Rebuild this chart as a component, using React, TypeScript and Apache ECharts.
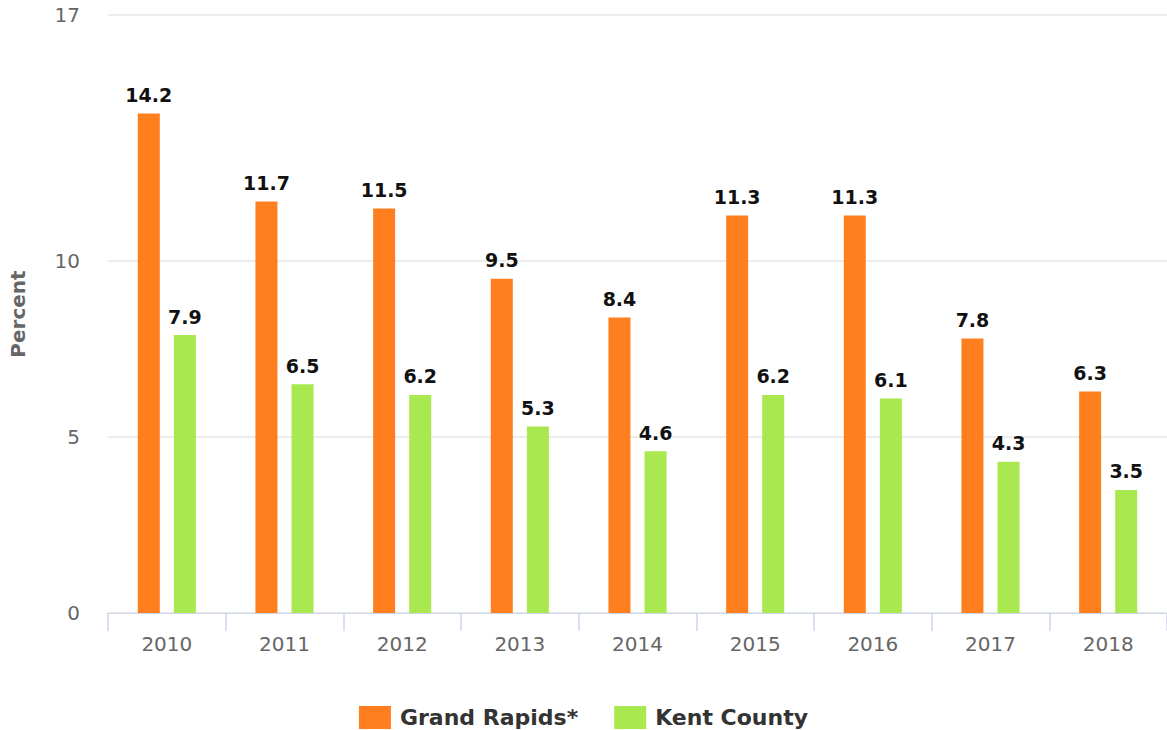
import React, { useEffect, useRef } from "react";
import * as echarts from "echarts";

const categories = ["2010", "2011", "2012", "2013", "2014", "2015", "2016", "2017", "2018"];
const grandRapids = [14.2, 11.7, 11.5, 9.5, 8.4, 11.3, 11.3, 7.8, 6.3];
const kentCounty = [7.9, 6.5, 6.2, 5.3, 4.6, 6.2, 6.1, 4.3, 3.5];
const yTicks = [0, 5, 10, 17];

const FONT = "'DejaVu Sans', Verdana, sans-serif";

export default function App() {
  const ref = useRef<HTMLDivElement>(null);
  useEffect(() => {
    if (!ref.current) return;
    const chart = echarts.init(ref.current, null, { renderer: "svg" });
    const label = {
      show: true,
      position: "top" as const,
      distance: 9,
      fontFamily: FONT,
      fontSize: 19,
      fontWeight: "bold" as const,
      color: "#111",
      textBorderColor: "#fff",
      textBorderWidth: 2,
    };
    chart.setOption({
      animation: false,
      backgroundColor: "#fff",
      textStyle: { fontFamily: FONT },
      grid: { left: 103, right: 0, top: 15, bottom: 117, containLabel: false },
      legend: {
        top: 701,
        left: "center",
        itemWidth: 32,
        itemHeight: 23,
        itemGap: 36,
        icon: "rect",
        textStyle: {
          fontFamily: FONT,
          fontSize: 22,
          fontWeight: "bold",
          color: "#333",
          padding: [0, 0, 0, 4],
        },
        data: ["Grand Rapids*", "Kent County"],
      },
      xAxis: {
        type: "category",
        data: categories,
        axisLine: { lineStyle: { color: "#ccd6eb", width: 1 } },
        axisTick: { show: true, length: 18, lineStyle: { color: "#ccd6eb", width: 1.5 } },
        axisLabel: { color: "#666", fontSize: 20, fontFamily: FONT, margin: 21 },
      },
      yAxis: {
        type: "value",
        min: 0,
        max: 17,
        name: "Percent",
        nameLocation: "middle",
        nameGap: 80,
        nameRotate: 90,
        nameTextStyle: { color: "#666", fontSize: 20, fontWeight: "bold", fontFamily: FONT },
        axisLine: { show: false },
        axisTick: { show: false, customValues: yTicks },
        axisLabel: { color: "#666", fontSize: 20, fontFamily: FONT, margin: 28, customValues: yTicks },
        splitLine: { lineStyle: { color: "#e6e6e6", width: 1.5 } },
      },
      series: [
        {
          name: "Grand Rapids*",
          type: "bar",
          data: grandRapids,
          barWidth: 22,
          barGap: "64%",
          itemStyle: { color: "#ff7f1f" },
          label,
        },
        {
          name: "Kent County",
          type: "bar",
          data: kentCounty,
          barWidth: 22,
          itemStyle: { color: "#a9e84e" },
          label,
        },
      ],
    });
    return () => chart.dispose();
  }, []);
  return (
    <div
      ref={ref}
      style={{ position: "absolute", left: 0, top: 0, width: 1167, height: 730 }}
    />
  );
}
